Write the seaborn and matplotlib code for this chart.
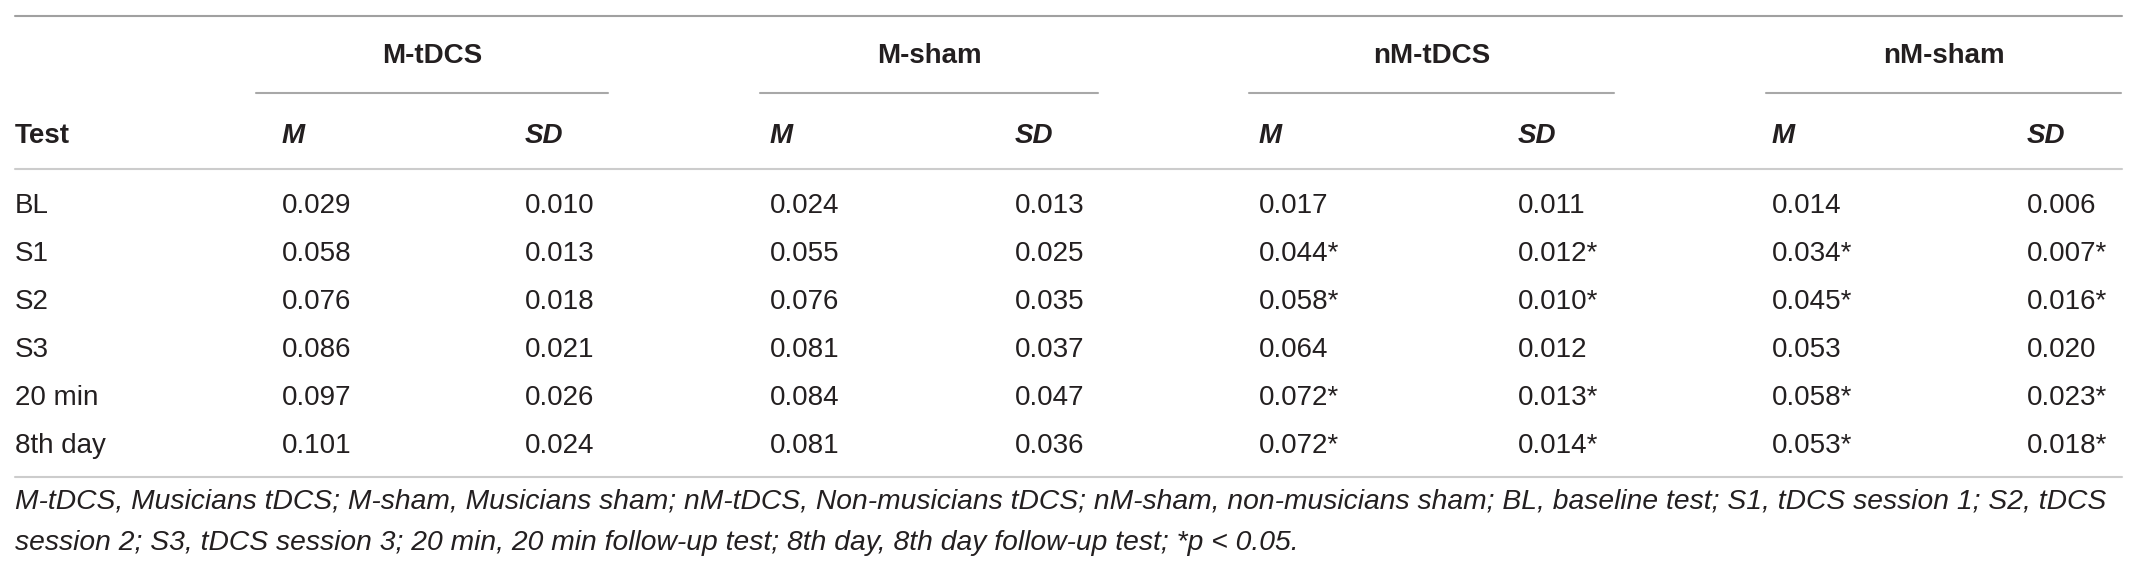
import matplotlib
matplotlib.use('Agg')
import matplotlib.pyplot as plt
import seaborn as sns

sns.set_theme(style='white')
plt.rcParams['font.family'] = ['Liberation Sans', 'DejaVu Sans']

# table data
tests = ['BL', 'S1', 'S2', 'S3', '20 min', '8th day']
groups = ['M-tDCS', 'M-sham', 'nM-tDCS', 'nM-sham']

m_tdcs_m = [0.029, 0.058, 0.076, 0.086, 0.097, 0.101]
m_tdcs_sd = [0.010, 0.013, 0.018, 0.021, 0.026, 0.024]
m_sham_m = [0.024, 0.055, 0.076, 0.081, 0.084, 0.081]
m_sham_sd = [0.013, 0.025, 0.035, 0.037, 0.047, 0.036]
nm_tdcs_m = [0.017, 0.044, 0.058, 0.064, 0.072, 0.072]
nm_tdcs_sd = [0.011, 0.012, 0.010, 0.012, 0.013, 0.014]
nm_sham_m = [0.014, 0.034, 0.045, 0.053, 0.058, 0.053]
nm_sham_sd = [0.006, 0.007, 0.016, 0.020, 0.023, 0.018]

# significant (p < 0.05) rows per group
m_tdcs_sig = [False, False, False, False, False, False]
m_sham_sig = [False, False, False, False, False, False]
nm_tdcs_sig = [False, True, True, False, True, True]
nm_sham_sig = [False, True, True, False, True, True]

footnote_1 = ('M-tDCS, Musicians tDCS; M-sham, Musicians sham; nM-tDCS, Non-musicians tDCS; '
              'nM-sham, non-musicians sham; BL, baseline test; S1, tDCS session 1; S2, tDCS')
footnote_2 = ('session 2; S3, tDCS session 3; 20 min, 20 min follow-up test; '
              '8th day, 8th day follow-up test; *p < 0.05.')

columns = [
    (m_tdcs_m, m_tdcs_sd, m_tdcs_sig),
    (m_sham_m, m_sham_sd, m_sham_sig),
    (nm_tdcs_m, nm_tdcs_sd, nm_tdcs_sig),
    (nm_sham_m, nm_sham_sd, nm_sham_sig),
]

# layout (pixel coordinates)
W, H = 2137, 573
x_left, x_right = 15, 2122
m_x = [282, 770, 1259, 1772]
sd_x = [525, 1015, 1518, 2027]
ul_x = [(256, 608), (760, 1098), (1249, 1614), (1766, 2121)]
txt = '#231f20'
fs = 20

fig = plt.figure(figsize=(W / 100, H / 100), dpi=100)
ax = fig.add_axes([0, 0, 1, 1])
ax.set_xlim(0, W)
ax.set_ylim(H, 0)
ax.axis('off')

# rules
ax.plot([x_left, x_right], [16, 16], color='#a0a0a0', lw=1.5)
ax.plot([x_left, x_right], [169, 169], color='#cccccc', lw=1.5)
ax.plot([x_left, x_right], [477, 477], color='#cccccc', lw=1.5)
for x0, x1 in ul_x:
    ax.plot([x0, x1], [93, 93], color='#a8a8a8', lw=1.5)

# header
for g, (x0, x1) in zip(groups, ul_x):
    ax.text((x0 + x1) / 2, 63, g, ha='center', va='baseline', fontsize=fs,
            fontweight='bold', color=txt)
ax.text(x_left, 143, 'Test', ha='left', va='baseline', fontsize=fs,
        fontweight='bold', color=txt)
for mx, sx in zip(m_x, sd_x):
    ax.text(mx, 143, 'M', ha='left', va='baseline', fontsize=fs,
            fontweight='bold', fontstyle='italic', color=txt)
    ax.text(sx, 143, 'SD', ha='left', va='baseline', fontsize=fs,
            fontweight='bold', fontstyle='italic', color=txt)

# body rows
for i, t in enumerate(tests):
    yb = 213 + 48 * i
    ax.text(x_left, yb, t, ha='left', va='baseline', fontsize=fs, color=txt)
    for (mv, sv, sig), mx, sx in zip(columns, m_x, sd_x):
        star = '*' if sig[i] else ''
        ax.text(mx, yb, f'{mv[i]:.3f}{star}', ha='left', va='baseline',
                fontsize=fs, color=txt)
        ax.text(sx, yb, f'{sv[i]:.3f}{star}', ha='left', va='baseline',
                fontsize=fs, color=txt)

# footnote, scaled to fill the table width
f1 = ax.text(x_left, 508, footnote_1, ha='left', va='baseline', fontsize=fs,
             fontstyle='italic', color=txt)
f2 = ax.text(x_left, 550, footnote_2, ha='left', va='baseline', fontsize=fs,
             fontstyle='italic', color=txt)
fig.canvas.draw()
w = f1.get_window_extent().width
new_fs = fs * (2105 - x_left) / w
f1.set_fontsize(new_fs)
f2.set_fontsize(new_fs)

fig.savefig('out.png', dpi=100)
